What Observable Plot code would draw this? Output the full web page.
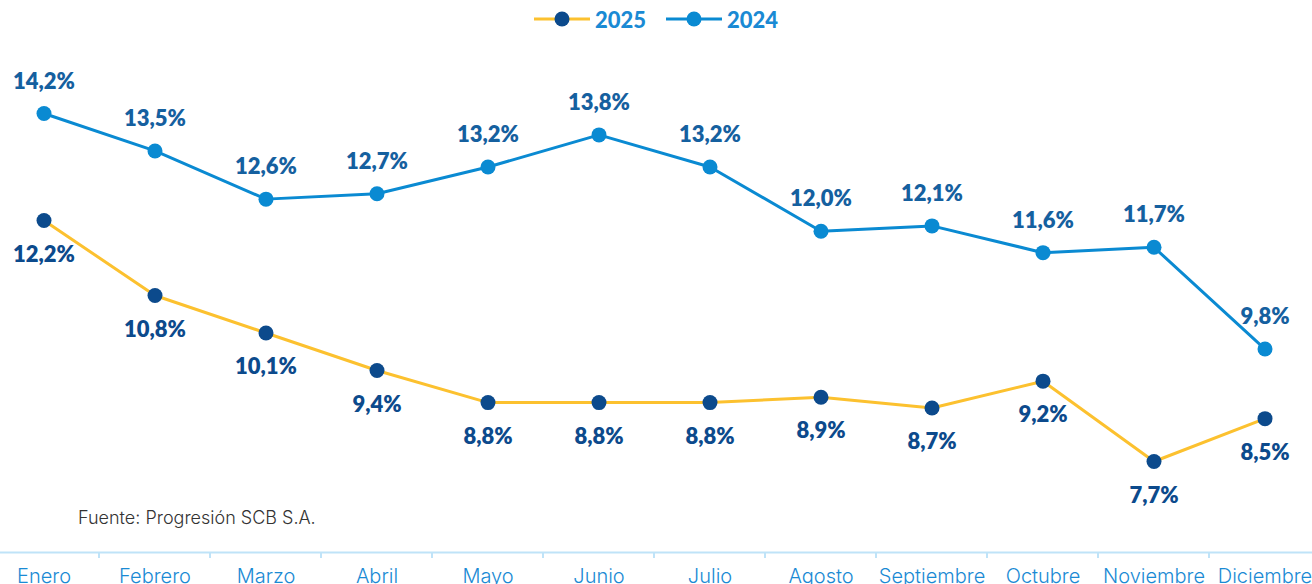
<!DOCTYPE html>
<html>
<head>
<meta charset="utf-8">
<script src="https://cdn.jsdelivr.net/npm/d3@7"></script>
<script src="https://cdn.jsdelivr.net/npm/@observablehq/plot@0.6"></script>
<style>
  html, body { margin: 0; padding: 0; background: #fff; overflow: hidden; width: 1312px; height: 584px; }
  #legend { height: 38px; display: flex; justify-content: center; align-items: center; gap: 20px; font-family: Lato, "Open Sans", sans-serif; font-weight: 900; font-size: 22px; color: #1a8ad4; padding-left: 0px; box-sizing: border-box; }
  .item { display: flex; align-items: center; gap: 5px; }
  #chart { position: relative; margin-left: -16px; width: 1340px; }
  #chart svg { max-width: none !important; }
  #source { position: absolute; left: 78px; top: 507px; font-family: Inter, Lato, sans-serif; font-size: 18px; font-weight: 300; color: #333; }
</style>
</head>
<body>
<div id="legend"></div>
<div id="chart"></div>
<div id="source">Fuente: Progresión SCB S.A.</div>
<script>
const months = ["Enero","Febrero","Marzo","Abril","Mayo","Junio","Julio","Agosto","Septiembre","Octubre","Noviembre","Diciembre"];
const series = ["2025", "2024"];
const values2025 = [12.2, 10.8, 10.1, 9.4, 8.8, 8.8, 8.8, 8.9, 8.7, 9.2, 7.7, 8.5];
const values2024 = [14.2, 13.5, 12.6, 12.7, 13.2, 13.8, 13.2, 12.0, 12.1, 11.6, 11.7, 9.8];

const lineColor = {"2025": "#fcc12f", "2024": "#0a8ad2"};
const dotColor = {"2025": "#0c4a8c", "2024": "#0a8ad2"};
const labelColor = {"2025": "#0c4a8c", "2024": "#15609f"};

// legend
const legend = document.getElementById("legend");
for (const s of series) {
  const item = document.createElement("div");
  item.className = "item";
  item.innerHTML = `<svg width="56" height="20"><line x1="0" x2="56" y1="10" y2="10" stroke="${lineColor[s]}" stroke-width="3"/><circle cx="28" cy="10" r="7.5" fill="${dotColor[s]}"/></svg><span>${s}</span>`;
  legend.appendChild(item);
}

const data = [];
months.forEach((m, i) => {
  data.push({month: m, series: "2025", value: values2025[i]});
  data.push({month: m, series: "2024", value: values2024[i]});
});
const fmt = v => v.toFixed(1).replace(".", ",") + "%";
const d25 = data.filter(d => d.series === "2025");
const d24 = data.filter(d => d.series === "2024");

const chart = Plot.plot({
  width: 1340,
  height: 546,
  marginLeft: 0,
  marginRight: 0,
  marginTop: 0,
  marginBottom: 32,
  style: {fontFamily: "Inter, Lato, sans-serif", overflow: "visible", maxWidth: "none"},
  x: {type: "band", domain: months, padding: 0, axis: null},
  y: {domain: [6, 15.6], axis: null},
  marks: [
    Plot.ruleY([6], {stroke: "#bfe3f8", strokeWidth: 2}),
    Plot.lineY(d24, {x: "month", y: "value", stroke: lineColor["2024"], strokeWidth: 3}),
    Plot.lineY(d25, {x: "month", y: "value", stroke: lineColor["2025"], strokeWidth: 3}),
    Plot.dot(d24, {x: "month", y: "value", r: 7.5, fill: dotColor["2024"]}),
    Plot.dot(d25, {x: "month", y: "value", r: 7.5, fill: dotColor["2025"]}),
    Plot.text(d24, {x: "month", y: "value", text: d => fmt(d.value), dy: -32, fill: labelColor["2024"], fontSize: 22, fontWeight: 800, fontFamily: "Lato, sans-serif"}),
    Plot.text(d25, {x: "month", y: "value", text: d => fmt(d.value), dy: 34, fill: labelColor["2025"], fontSize: 22, fontWeight: 800, fontFamily: "Lato, sans-serif"}),
    Plot.axisX({domain: months, label: null, tickSize: 0, tickPadding: 0, dy: 16, fill: "#1a8ad4", fontSize: 20, fontWeight: 300, fontFamily: "Inter, sans-serif", anchor: "bottom"})
  ]
});
chart.style.maxWidth = "none";
document.getElementById("chart").appendChild(chart);

// separator ticks at band boundaries, placed via the x scale
const xs = chart.scale("x");
const ys = chart.scale("y");
const svg = d3.select(chart);
const g = svg.append("g");
months.slice(1).forEach(m => {
  const xb = xs.apply(m);
  g.append("line").attr("x1", xb).attr("x2", xb).attr("y1", ys.apply(6)).attr("y2", ys.apply(6) + 6)
    .attr("stroke", "#bfe3f8").attr("stroke-width", 2);
});
</script>
</body>
</html>
